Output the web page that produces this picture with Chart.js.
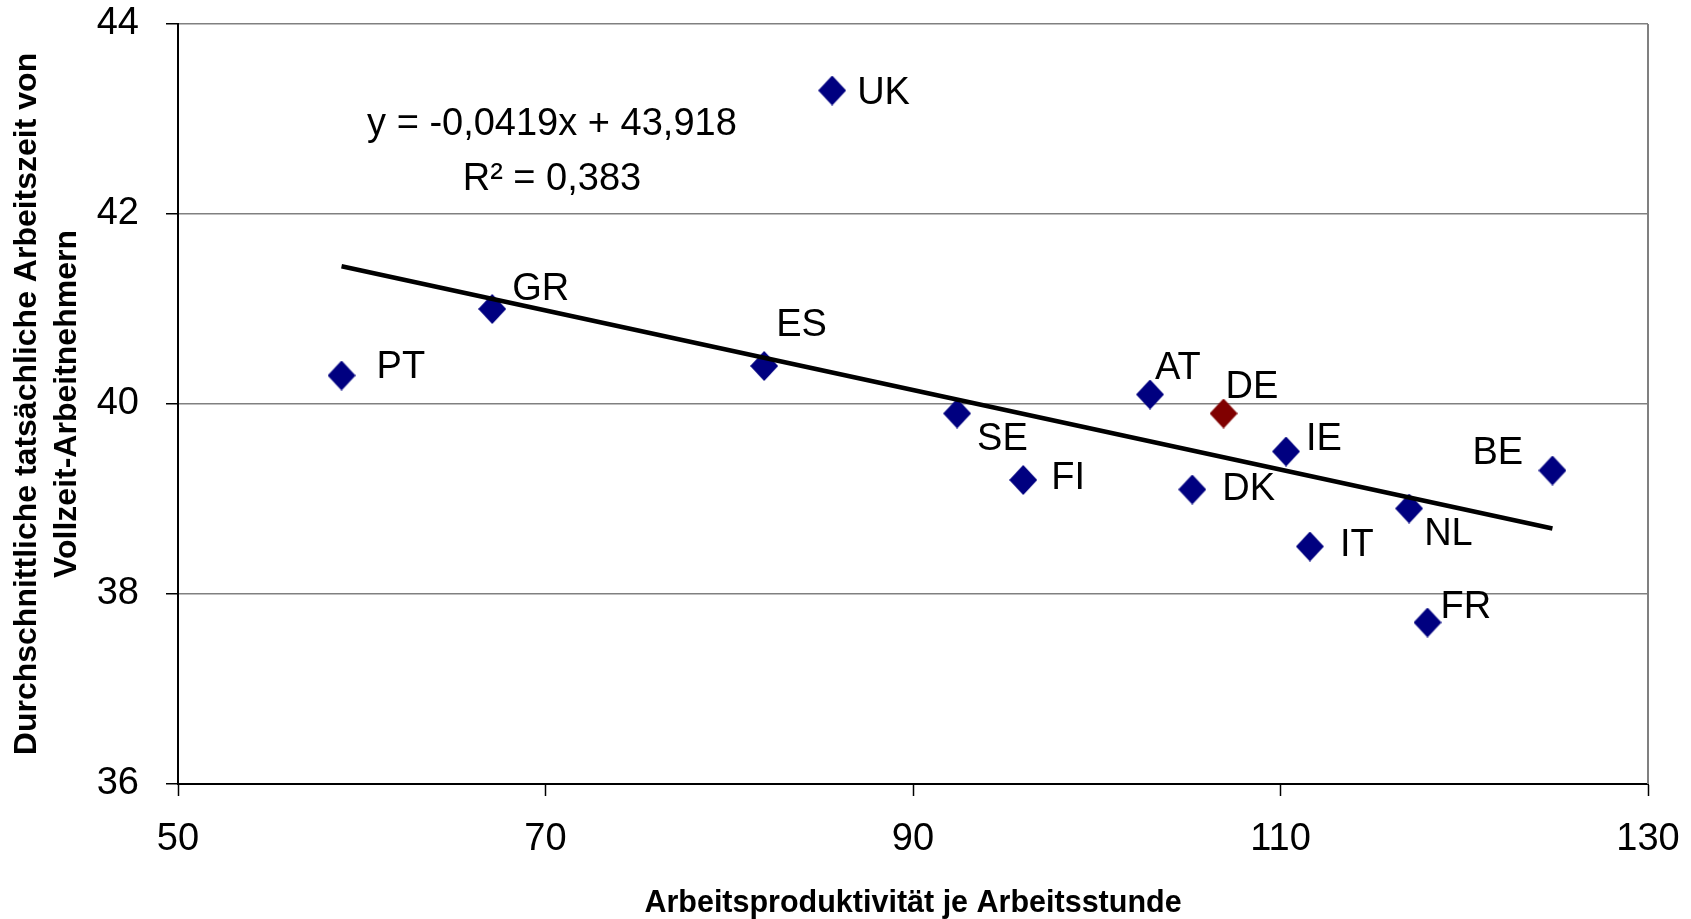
<!DOCTYPE html>
<html>
<head>
<meta charset="utf-8">
<script src="https://cdn.jsdelivr.net/npm/chart.js@4"></script>
<style>
html,body{margin:0;padding:0;background:#fff;}
canvas{display:block;}
</style>
</head>
<body>
<canvas id="c" width="1691" height="919"></canvas>
<script>
// ---- data ----
const countries = ['PT','GR','ES','UK','SE','FI','AT','DE','DK','IE','IT','NL','FR','BE'];
const productivity = [58.9, 67.1, 81.9, 85.6, 92.4, 96.0, 102.9, 106.9, 105.2, 110.3, 111.6, 117.0, 118.0, 124.8];
const hours = [40.3, 41.0, 40.4, 43.3, 39.9, 39.2, 40.1, 39.9, 39.1, 39.5, 38.5, 38.9, 37.7, 39.3];
const highlighted = ['DE'];
const trendX = [58.9, 124.8];
const trendY = [41.45, 38.69];
const equationText = 'y = -0,0419x + 43,918';
const r2Text = 'R\u00B2 = 0,383';
const xTitle = 'Arbeitsproduktivität je Arbeitsstunde';
const yTitle = ['Durchschnittliche tatsächliche Arbeitszeit von', 'Vollzeit-Arbeitnehmern'];
const xTicks = [50, 70, 90, 110, 130];
const yTicks = [36, 38, 40, 42, 44];

// ---- label placement (pixel offsets from each marker, left edge / vertical middle) ----
const labelOffsets = {
  PT:[35,-8], GR:[20,-19], ES:[12,-40], UK:[25,3], SE:[20,26], FI:[28,-1],
  AT:[5,-26], DE:[2,-26], DK:[30,0], IE:[20,-12], IT:[30,-1], NL:[15,26],
  FR:[13,-15], BE:[-80,-17]
};
const FONT = "'Liberation Sans', Arial, sans-serif";
const NAVY = '#000080';
const DARKRED = '#800000';

function diamond(color) {
  const w = 28, h = 30;
  const cv = document.createElement('canvas');
  cv.width = w; cv.height = h;
  const g = cv.getContext('2d');
  g.fillStyle = color;
  g.beginPath();
  g.moveTo(w / 2, 0); g.lineTo(w, h / 2); g.lineTo(w / 2, h); g.lineTo(0, h / 2);
  g.closePath(); g.fill();
  return cv;
}
const markerStyles = {};
markerStyles[NAVY] = diamond(NAVY);
markerStyles[DARKRED] = diamond(DARKRED);

const points = countries.map((c, i) => ({x: productivity[i], y: hours[i]}));
const colors = countries.map(c => highlighted.includes(c) ? DARKRED : NAVY);

const decor = {
  id: 'decor',
  afterDatasetsDraw(chart) {
    const {ctx, chartArea, scales} = chart;
    ctx.save();
    // right border of plot area
    ctx.strokeStyle = '#808080';
    ctx.lineWidth = 2;
    ctx.beginPath();
    ctx.moveTo(chartArea.right, chartArea.top);
    ctx.lineTo(chartArea.right, chartArea.bottom);
    ctx.stroke();
    // data labels
    ctx.fillStyle = '#000';
    ctx.font = '38px ' + FONT;
    ctx.textAlign = 'left';
    ctx.textBaseline = 'middle';
    countries.forEach((c, i) => {
      const px = scales.x.getPixelForValue(productivity[i]);
      const py = scales.y.getPixelForValue(hours[i]);
      const o = labelOffsets[c];
      ctx.fillText(c, px + o[0], py + o[1]);
    });
    // trend equation
    ctx.textAlign = 'center';
    const ex = scales.x.getPixelForValue(70.35);
    ctx.fillText(equationText, ex, scales.y.getPixelForValue(42.94));
    ctx.fillText(r2Text, ex, scales.y.getPixelForValue(42.36));
    ctx.restore();
  }
};

new Chart(document.getElementById('c'), {
  type: 'scatter',
  data: {
    datasets: [
      {
        type: 'line',
        data: trendX.map((x, i) => ({x, y: trendY[i]})),
        borderColor: '#000',
        borderWidth: 4.5,
        pointRadius: 0,
        fill: false,
        order: 0
      },
      {
        data: points,
        pointStyle: colors.map(c => markerStyles[c]),
        pointRadius: 14,
        pointHoverRadius: 14,
        pointBackgroundColor: colors,
        pointBorderColor: colors,
        order: 1
      }
    ]
  },
  options: {
    responsive: false,
    animation: false,
    devicePixelRatio: 1,
    layout: {padding: {left: 0, right: 43, top: 24, bottom: 0}},
    plugins: {legend: {display: false}, tooltip: {enabled: false}},
    scales: {
      x: {
        type: 'linear', min: 50, max: 130,
        afterBuildTicks(s) { s.ticks = xTicks.map(v => ({value: v})); },
        ticks: {font: {family: FONT, size: 38}, color: '#000', padding: 21},
        grid: {drawOnChartArea: false, tickLength: 12, tickColor: '#000', tickWidth: 1.5},
        border: {color: '#000', width: 2},
        title: {display: true, text: xTitle, color: '#000', font: {family: FONT, size: 30.5, weight: 'bold'}, padding: {top: 0, bottom: -3}},
        afterFit(s) { s.height = 135; s.paddingLeft = 0; s.paddingRight = 0; }
      },
      y: {
        min: 36, max: 44,
        afterBuildTicks(s) { s.ticks = yTicks.map(v => ({value: v})); },
        ticks: {font: {family: FONT, size: 38}, color: '#000', padding: 27},
        grid: {color: '#808080', lineWidth: 1.5, tickLength: 12, tickColor: '#000', tickWidth: 1.5},
        border: {color: '#000', width: 2},
        title: {display: true, text: yTitle, color: '#000', font: {family: FONT, size: 32, weight: 'bold', lineHeight: 1.25}, padding: {top: 7, bottom: 0}},
        afterFit(s) { s.width = 178; s.paddingTop = 0; s.paddingBottom = 0; }
      }
    }
  },
  plugins: [decor]
});
</script>
</body>
</html>
